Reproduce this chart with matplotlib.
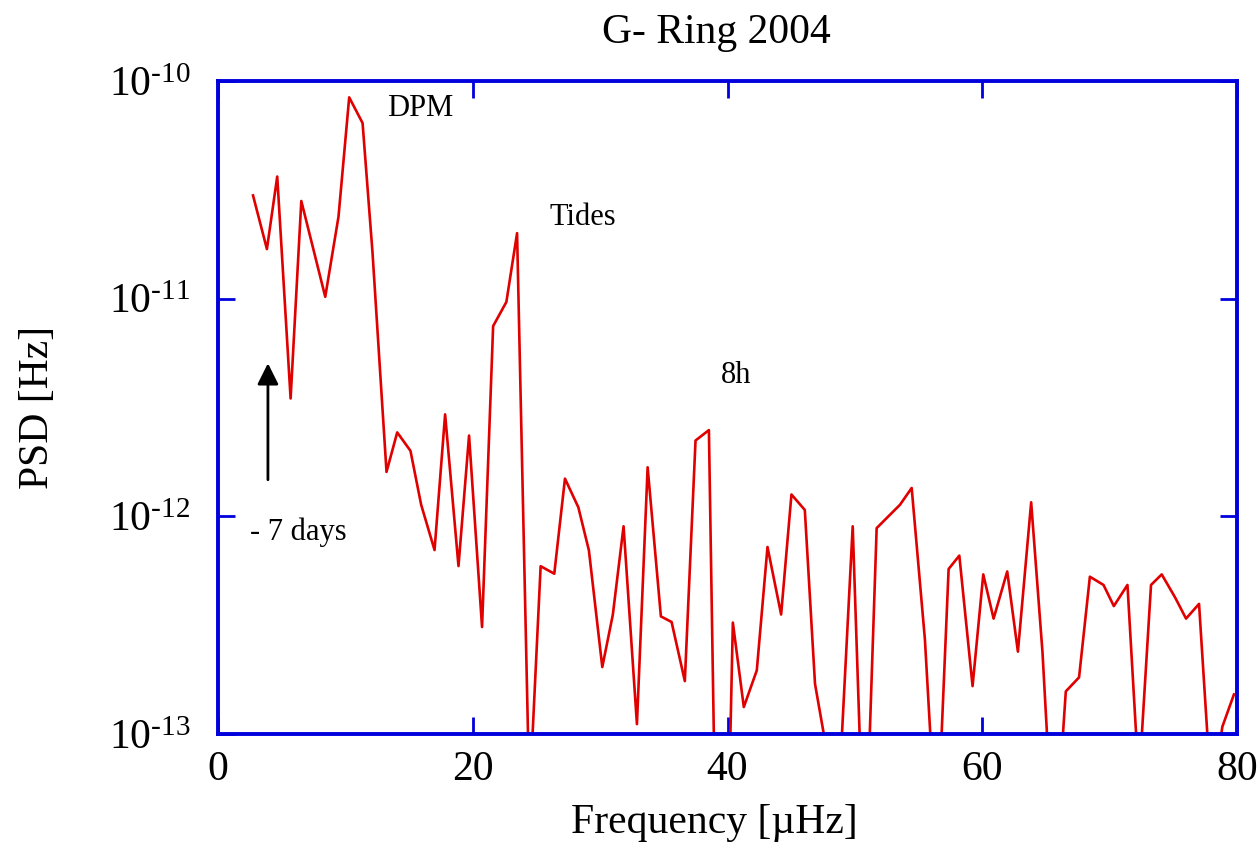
import math
import matplotlib
matplotlib.use("Agg")
import matplotlib.pyplot as plt
from matplotlib.ticker import FixedLocator, FuncFormatter, NullLocator

plt.rcParams['font.family'] = ['Liberation Serif', 'DejaVu Serif']
plt.rcParams['mathtext.fontset'] = 'custom'
plt.rcParams['mathtext.rm'] = 'Liberation Serif'
plt.rcParams['mathtext.it'] = 'Liberation Serif:italic'

title = "G- Ring 2004"
xlabel = "Frequency [µHz]"
ylabel = "PSD [Hz]"

freq = [2.75, 3.84, 4.65, 5.70, 6.54, 8.42, 9.46, 10.30, 11.35, 12.13, 13.23, 14.07,
        15.11, 15.95, 17.0, 17.83, 18.88, 19.71, 20.73, 21.6, 22.64, 23.48, 24.45,
        25.33, 26.4, 27.24, 28.29, 29.12, 30.17, 31.0, 31.84, 32.89, 33.73, 34.77,
        35.61, 36.65, 37.49, 38.54, 39.48, 40.42, 41.28, 42.3, 43.14, 44.21, 45.02,
        46.07, 46.87, 47.85, 48.85, 49.83, 50.77, 51.71, 53.54, 54.46, 55.5, 56.43,
        57.36, 58.2, 59.24, 60.08, 60.89, 61.96, 62.8, 63.84, 64.73, 65.65, 66.56,
        67.6, 68.45, 69.52, 70.33, 71.4, 72.3, 73.25, 74.09, 75.14, 76.0, 77.02,
        78.0, 78.85, 79.76]

psd = [2.98e-11, 1.69e-11, 3.64e-11, 3.48e-12, 2.81e-11, 1.02e-11, 2.38e-11, 8.41e-11,
       6.41e-11, 1.63e-11, 1.60e-12, 2.43e-12, 2.0e-12, 1.13e-12, 7.0e-13, 2.94e-12,
       5.91e-13, 2.35e-12, 3.10e-13, 7.48e-12, 9.66e-12, 2.0e-11, 5e-14, 5.9e-13,
       5.45e-13, 1.49e-12, 1.10e-12, 6.97e-13, 2.03e-13, 3.54e-13, 9.0e-13, 1.11e-13,
       1.68e-12, 3.47e-13, 3.27e-13, 1.75e-13, 2.23e-12, 2.49e-12, 1e-15, 3.25e-13,
       1.33e-13, 1.96e-13, 7.23e-13, 3.54e-13, 1.26e-12, 1.07e-12, 1.70e-13, 8e-14,
       7e-14, 9.0e-13, 2e-14, 8.83e-13, 1.13e-12, 1.35e-12, 2.71e-13, 3e-14, 5.73e-13,
       6.6e-13, 1.66e-13, 5.41e-13, 3.39e-13, 5.58e-13, 2.39e-13, 1.16e-12, 2.37e-13,
       2.5e-14, 1.57e-13, 1.82e-13, 5.28e-13, 4.84e-13, 3.87e-13, 4.84e-13, 6e-14,
       4.84e-13, 5.41e-13, 4.24e-13, 3.39e-13, 3.96e-13, 5e-14, 1.08e-13, 1.52e-13]

xticks = [0, 20, 40, 60, 80]
yticks = [1e-13, 1e-12, 1e-11, 1e-10]

annotations = [("DPM", 13.3, 7.5e-11), ("Tides", 26.0, 2.35e-11),
               ("8h", 39.5, 4.43e-12), ("- 7 days", 2.5, 8.45e-13)]
arrow_x = 3.92
arrow_from = 1.43e-12
arrow_to = 5.2e-12

blue = '#0000DD'
red = '#E00000'

fig = plt.figure(figsize=(12.59, 8.48), dpi=100)
ax = fig.add_axes([218/1259, 1-734/848, (1237-218)/1259, (734-81)/848])

ax.plot(freq, psd, color=red, lw=1.9)
ax.set_yscale('log')
ax.set_xlim(0, 80)
ax.set_ylim(1e-13, 1e-10)

ax.xaxis.set_major_locator(FixedLocator(xticks))
ax.yaxis.set_major_locator(FixedLocator(yticks))
ax.xaxis.set_minor_locator(NullLocator())
ax.yaxis.set_minor_locator(NullLocator())

def yfmt(v, pos):
    e = int(round(math.log10(v)))
    return r'$10^{\text{-}%d}$' % abs(e)

ax.yaxis.set_major_formatter(FuncFormatter(yfmt))

for s in ax.spines.values():
    s.set_color(blue)
    s.set_linewidth(2.8)

ax.tick_params(axis='both', which='major', direction='in', length=12, width=2,
               color=blue, labelsize=30, top=True, right=True)
ax.tick_params(axis='x', pad=12)
ax.tick_params(axis='y', pad=20)

ax.set_xlabel(xlabel, fontsize=30)
ax.xaxis.set_label_coords((714 - 218) / (1237 - 218), -(804 - 734) / (734 - 81),
                          transform=ax.transAxes)
ax.xaxis.label.set_verticalalignment('top')
ax.set_ylabel(ylabel, fontsize=30)
ax.yaxis.set_label_coords(-(218 - 38) / (1237 - 218), 0.5, transform=ax.transAxes)
ax.yaxis.label.set_verticalalignment('center')
ax.set_title(title, fontsize=30, pad=27, x=(716 - 218) / (1237 - 218))

for txt, x, y in annotations:
    ax.text(x, y, txt, fontsize=22, ha='left', va='center')

ax.annotate('', xy=(arrow_x, arrow_to), xytext=(arrow_x, arrow_from),
            arrowprops=dict(arrowstyle='-|>', color='black', lw=2, mutation_scale=32))

fig.savefig('out.png', dpi=100)
